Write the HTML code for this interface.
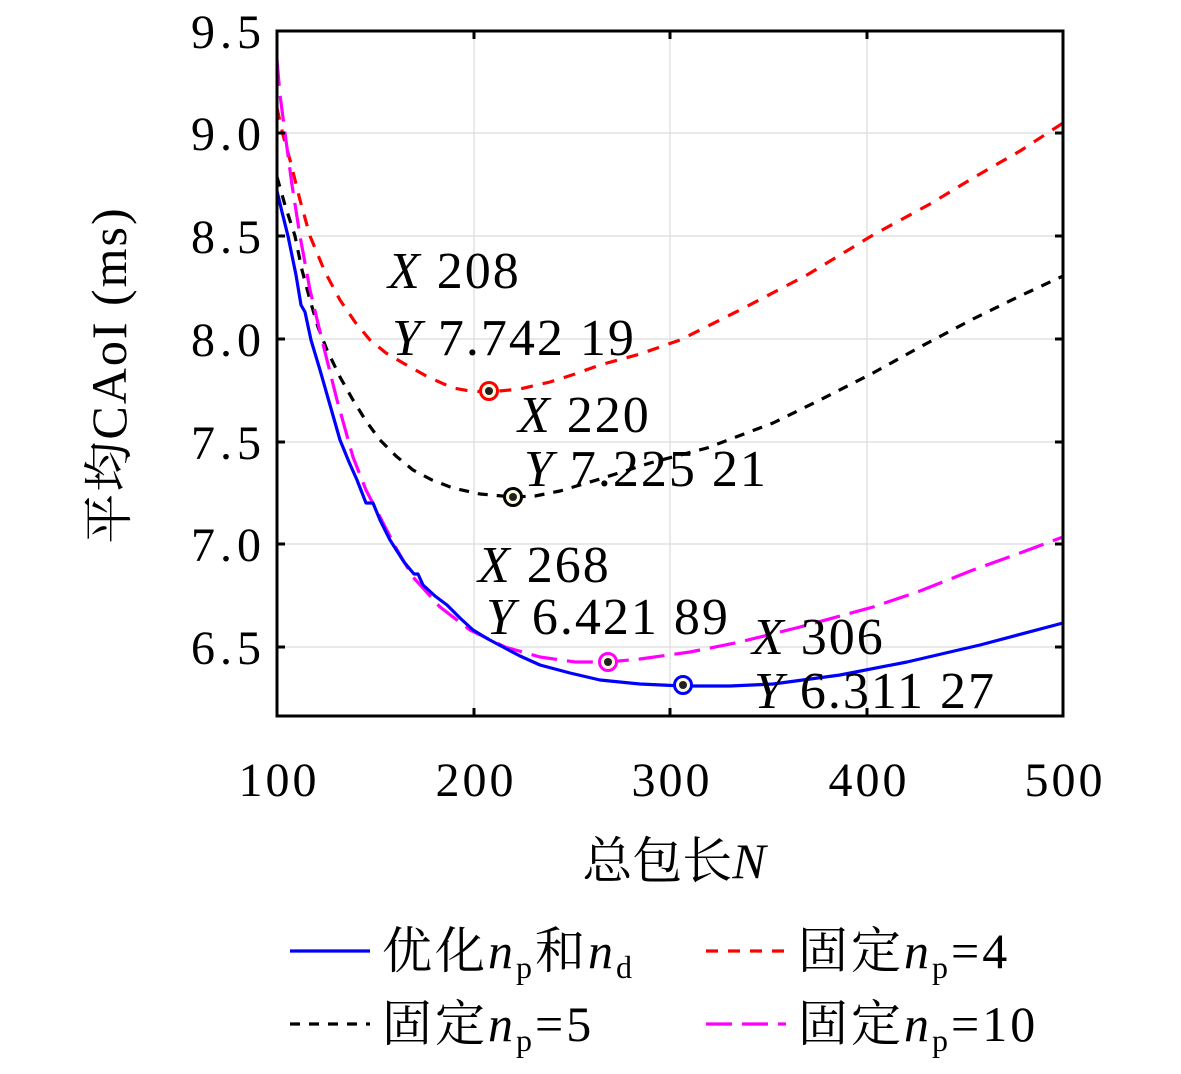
<!DOCTYPE html>
<html><head><meta charset="utf-8"><style>
html,body{margin:0;padding:0;background:#fff}
svg text{font-family:"Liberation Serif","Noto Serif CJK SC",serif;fill:#000}
</style></head><body>
<svg width="1181" height="1069" viewBox="0 0 1181 1069" xmlns="http://www.w3.org/2000/svg">
<g stroke="#dcdcdc" stroke-width="1.2">
<line x1="277" y1="133" x2="1063" y2="133"/><line x1="277" y1="236" x2="1063" y2="236"/>
<line x1="277" y1="339" x2="1063" y2="339"/><line x1="277" y1="442" x2="1063" y2="442"/>
<line x1="277" y1="544" x2="1063" y2="544"/><line x1="277" y1="647" x2="1063" y2="647"/>
<line x1="474" y1="31" x2="474" y2="716"/><line x1="670" y1="31" x2="670" y2="716"/><line x1="867" y1="31" x2="867" y2="716"/>
</g>
<g fill="none" stroke-width="3.2" stroke-linejoin="round">
<polyline stroke="#ff0000" stroke-dasharray="12,10" points="277,108 283,135 290,160 300,200 310,236 325,272 340,300 355,322 370,340 386,353 403,363 428,377 453,388 470,391 489,392 520,389 550,382 575,374 600,365 640,354 680,340 740,310 807,275 873,235 930,204 973,178 1020,151 1063,123"/>
<polyline stroke="#000" stroke-dasharray="10,9" points="277,177 285,205 295,236 302,270 310,300 318,327 327,350 340,377 353,400 366,421 380,440 396,456 413,470 432,480 453,488 480,494 513,497 535,496 560,491 600,479 650,463 707,448 773,423 820,400 873,373 920,347 973,319 1020,296 1063,276"/>
<polyline stroke="#ff00ff" stroke-dasharray="26,10" points="277,60 280,95 285,133 292,185 300,236 310,290 322,340 337,400 353,457 366,490 380,517 396,548 413,577 440,607 470,630 505,647 540,657 575,662 608,662 640,659 690,652 740,642 800,627 873,607 920,591 973,570 1020,553 1063,537"/>
<polyline stroke="#0000ff" points="277,191 282,212 288,236 296,275 301,305 305,312 311,340 320,370 330,405 340,440 349,462 357,480 366,503 373,503 380,520 390,540 404,562 414,574 418,574 423,585 435,596 447,605 460,618 473,630 488,639 503,647 520,656 540,665 570,673 600,680 640,684 683,686 730,686 773,684 840,675 907,662 980,645 1063,623"/>
</g>
<g stroke-width="3" fill="#fffbe0">
<circle cx="489" cy="391" r="8.5" stroke="#ff0000"/><circle cx="513" cy="497" r="8.5" stroke="#000"/>
<circle cx="608" cy="662" r="8.5" stroke="#ff00ff"/><circle cx="683" cy="685" r="8.5" stroke="#0000ff"/>
</g>
<g fill="#222"><circle cx="489" cy="391" r="4"/><circle cx="513" cy="497" r="4"/><circle cx="608" cy="662" r="4"/><circle cx="683" cy="685" r="4"/></g>
<rect x="277" y="31" width="786" height="685" fill="none" stroke="#000" stroke-width="3"/>
<g stroke="#000" stroke-width="3">
<line x1="277" y1="133" x2="285" y2="133"/><line x1="277" y1="236" x2="285" y2="236"/><line x1="277" y1="339" x2="285" y2="339"/>
<line x1="277" y1="442" x2="285" y2="442"/><line x1="277" y1="544" x2="285" y2="544"/><line x1="277" y1="647" x2="285" y2="647"/>
<line x1="1063" y1="133" x2="1055" y2="133"/><line x1="1063" y1="236" x2="1055" y2="236"/><line x1="1063" y1="339" x2="1055" y2="339"/>
<line x1="1063" y1="442" x2="1055" y2="442"/><line x1="1063" y1="544" x2="1055" y2="544"/><line x1="1063" y1="647" x2="1055" y2="647"/>
<line x1="474" y1="716" x2="474" y2="708"/><line x1="670" y1="716" x2="670" y2="708"/><line x1="867" y1="716" x2="867" y2="708"/>
<line x1="474" y1="31" x2="474" y2="39"/><line x1="670" y1="31" x2="670" y2="39"/><line x1="867" y1="31" x2="867" y2="39"/>
</g>
<g font-size="48" text-anchor="end" letter-spacing="5">
<text x="266" y="48">9.5</text><text x="266" y="150">9.0</text><text x="266" y="253">8.5</text><text x="266" y="356">8.0</text>
<text x="266" y="459">7.5</text><text x="266" y="561">7.0</text><text x="266" y="664">6.5</text>
</g>
<g font-size="48" text-anchor="middle" letter-spacing="3">
<text x="279" y="796">100</text><text x="476" y="796">200</text><text x="672" y="796">300</text><text x="869" y="796">400</text><text x="1065" y="796">500</text>
</g>
<text x="674" y="878" font-size="50" text-anchor="middle">总包长<tspan font-style="italic">N</tspan></text>
<text transform="translate(126,375) rotate(-90)" font-size="50" text-anchor="middle" letter-spacing="2">平均CAoI (ms)</text>
<g font-size="52" letter-spacing="2">
<text x="388" y="288"><tspan font-style="italic">X</tspan> 208</text>
<text x="392" y="355"><tspan font-style="italic">Y</tspan> 7.742 19</text>
<text x="518" y="432"><tspan font-style="italic">X</tspan> 220</text>
<text x="524" y="486"><tspan font-style="italic">Y</tspan> 7.225 21</text>
<text x="478" y="582"><tspan font-style="italic">X</tspan> 268</text>
<text x="486" y="634"><tspan font-style="italic">Y</tspan> 6.421 89</text>
<text x="752" y="654"><tspan font-style="italic">X</tspan> 306</text>
<text x="754" y="708"><tspan font-style="italic">Y</tspan> 6.311 27</text>
</g>
<g stroke-width="3.2">
<line x1="290" y1="951" x2="370" y2="951" stroke="#0000ff"/>
<line x1="706" y1="951" x2="786" y2="951" stroke="#ff0000" stroke-dasharray="12,10"/>
<line x1="290" y1="1024" x2="370" y2="1024" stroke="#000" stroke-dasharray="10,9"/>
<line x1="706" y1="1024" x2="786" y2="1024" stroke="#ff00ff" stroke-dasharray="26,10"/>
</g>
<g font-size="50" letter-spacing="3">
<text x="382" y="968">优化<tspan font-style="italic">n</tspan><tspan font-size="32" dy="10">p</tspan><tspan dy="-10">和</tspan><tspan font-style="italic">n</tspan><tspan font-size="32" dy="10">d</tspan></text>
<text x="798" y="968">固定<tspan font-style="italic">n</tspan><tspan font-size="32" dy="10">p</tspan><tspan dy="-10">=4</tspan></text>
<text x="382" y="1041">固定<tspan font-style="italic">n</tspan><tspan font-size="32" dy="10">p</tspan><tspan dy="-10">=5</tspan></text>
<text x="798" y="1041">固定<tspan font-style="italic">n</tspan><tspan font-size="32" dy="10">p</tspan><tspan dy="-10">=10</tspan></text>
</g>
</svg>
</body></html>
